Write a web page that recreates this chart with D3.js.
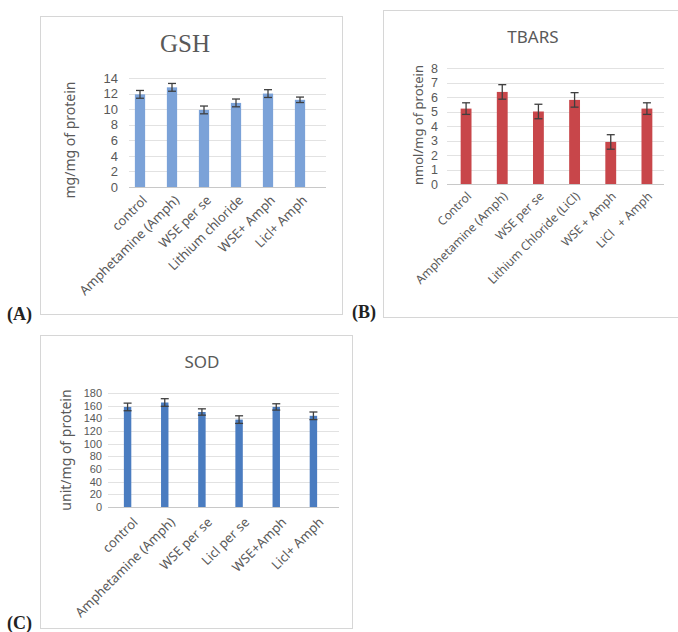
<!DOCTYPE html>
<html>
<head>
<meta charset="utf-8">
<script src="https://cdn.jsdelivr.net/npm/d3@7"></script>
<style>
  body { margin: 0; background: #fff; }
  svg { display: block; }
</style>
</head>
<body>
<div id="chart"></div>
<script>
// data
var gshCategories = ["control", "Amphetamine (Amph)", "WSE per se", "Lithium chloride", "WSE+ Amph", "Licl+ Amph"];
var gshMeans = [11.9, 12.8, 9.9, 10.8, 12.0, 11.2];
var gshErrors = [0.5, 0.5, 0.5, 0.5, 0.5, 0.35];
var gshTicks = [0, 2, 4, 6, 8, 10, 12, 14];

var tbarsCategories = ["Control", "Amphetamine (Amph)", "WSE per se", "Lithium Chloride (LiCl)", "WSE + Amph", "LiCl   + Amph"];
var tbarsMeans = [5.2, 6.35, 5.0, 5.8, 2.9, 5.2];
var tbarsErrors = [0.4, 0.5, 0.5, 0.5, 0.5, 0.4];
var tbarsTicks = [0, 1, 2, 3, 4, 5, 6, 7, 8];

var sodCategories = ["control", "Amphetamine (Amph)", "WSE per se", "Licl per se", "WSE+Amph", "Licl+ Amph"];
var sodMeans = [158, 165, 150, 138, 158, 144];
var sodErrors = [6, 6, 5, 6, 5, 6];
var sodTicks = [0, 20, 40, 60, 80, 100, 120, 140, 160, 180];

var svgWidth = 678;
var svgHeight = 632;

var svg = d3.select("#chart")
  .append("svg")
  .attr("width", svgWidth)
  .attr("height", svgHeight);

svg.append("rect")
  .attr("width", svgWidth)
  .attr("height", svgHeight)
  .attr("fill", "#fff");

var textColor = "#595959";
var sans = "Noto Sans, sans-serif";
var tickFont = "Liberation Sans, Arial, sans-serif";

function drawPanel(p) {
  var g = svg.append("g");

  // frame
  g.append("rect")
    .attr("x", p.box[0] + 0.5)
    .attr("y", p.box[1] + 0.5)
    .attr("width", p.box[2])
    .attr("height", p.box[3])
    .attr("fill", "none")
    .attr("stroke", "#d6d6d6")
    .attr("stroke-width", 1);

  // panel letter
  g.append("text")
    .attr("x", p.letterPos[0])
    .attr("y", p.letterPos[1])
    .attr("font-family", "Liberation Serif, serif")
    .attr("font-weight", "bold")
    .attr("font-size", "18px")
    .attr("fill", "#222")
    .text(p.letter);

  var x = d3.scaleBand()
    .domain(p.categories)
    .range(p.xRange)
    .paddingInner(p.pad)
    .paddingOuter(p.pad / 2);

  var y = d3.scaleLinear()
    .domain([0, p.ticks[p.ticks.length - 1]])
    .range(p.yRange);

  // gridlines
  g.selectAll(null)
    .data(p.ticks)
    .enter()
    .append("line")
    .attr("x1", p.grid[0])
    .attr("x2", p.grid[1])
    .attr("y1", d => Math.round(y(d)) + 0.5)
    .attr("y2", d => Math.round(y(d)) + 0.5)
    .attr("stroke", d => d === 0 ? "#c8c8c8" : "#e2e2e2")
    .attr("stroke-width", 1);

  // y axis (labels only)
  var yAxis = d3.axisLeft(y)
    .tickValues(p.ticks)
    .tickSize(0)
    .tickPadding(p.tickPad);

  var yG = g.append("g")
    .attr("transform", `translate(${p.grid[0]}, 0)`)
    .call(yAxis);
  yG.select(".domain").remove();
  yG.selectAll("text")
    .attr("font-family", tickFont)
    .attr("font-size", p.tickSize)
    .attr("fill", textColor);

  // bars
  g.selectAll(null)
    .data(p.means)
    .enter()
    .append("rect")
    .attr("x", (d, i) => x(p.categories[i]))
    .attr("y", d => y(d))
    .attr("width", x.bandwidth())
    .attr("height", d => y(0) - y(d))
    .attr("fill", p.color);

  // error bars
  var errG = g.selectAll(null)
    .data(p.means)
    .enter()
    .append("g")
    .attr("stroke", "#3f3f3f")
    .attr("stroke-width", 1.3);

  errG.append("line")
    .attr("x1", (d, i) => x(p.categories[i]) + x.bandwidth() / 2)
    .attr("x2", (d, i) => x(p.categories[i]) + x.bandwidth() / 2)
    .attr("y1", (d, i) => y(d - p.errors[i]))
    .attr("y2", (d, i) => y(d + p.errors[i]));

  errG.append("line")
    .attr("x1", (d, i) => x(p.categories[i]) + x.bandwidth() / 2 - 4)
    .attr("x2", (d, i) => x(p.categories[i]) + x.bandwidth() / 2 + 4)
    .attr("y1", (d, i) => y(d + p.errors[i]))
    .attr("y2", (d, i) => y(d + p.errors[i]));

  errG.append("line")
    .attr("x1", (d, i) => x(p.categories[i]) + x.bandwidth() / 2 - 4)
    .attr("x2", (d, i) => x(p.categories[i]) + x.bandwidth() / 2 + 4)
    .attr("y1", (d, i) => y(d - p.errors[i]))
    .attr("y2", (d, i) => y(d - p.errors[i]));

  // rotated category labels
  g.selectAll(null)
    .data(p.categories)
    .enter()
    .append("text")
    .attr("transform", d => `translate(${x(d) + x.bandwidth() / 2 + p.labelOff[0]}, ${y(0) + p.labelOff[1]}) rotate(-45)`)
    .attr("text-anchor", "end")
    .attr("font-family", sans)
    .attr("font-size", p.catSize)
    .attr("fill", textColor)
    .style("white-space", "pre")
    .text(d => d);

  // y title
  g.append("text")
    .attr("transform", `translate(${p.yTitlePos[0]}, ${p.yTitlePos[1]}) rotate(-90)`)
    .attr("text-anchor", "middle")
    .attr("font-family", sans)
    .attr("font-size", p.yTitleSize)
    .attr("fill", textColor)
    .text(p.yTitle);

  // chart title
  g.append("text")
    .attr("x", p.titlePos[0])
    .attr("y", p.titlePos[1])
    .attr("text-anchor", "middle")
    .attr("font-family", p.titleFont)
    .attr("font-size", p.titleSize)
    .attr("fill", textColor)
    .text(p.title);
}

drawPanel({
  box: [40, 16, 302, 298],
  letter: "(A)", letterPos: [7, 320],
  categories: gshCategories, means: gshMeans, errors: gshErrors, ticks: gshTicks,
  xRange: [124, 316], pad: 0.68, yRange: [187, 78], grid: [129, 326],
  color: "#7ba2d8", tickPad: 11, tickSize: "13px", catSize: "13px", labelOff: [8, 14],
  yTitle: "mg/mg of protein", yTitlePos: [75, 140], yTitleSize: "14px",
  title: "GSH", titlePos: [185, 52], titleFont: "Liberation Serif, serif", titleSize: "25px"
});

drawPanel({
  box: [383, 10, 300, 307],
  letter: "(B)", letterPos: [352, 318],
  categories: tbarsCategories, means: tbarsMeans, errors: tbarsErrors, ticks: tbarsTicks,
  xRange: [448, 665], pad: 0.7, yRange: [184, 68], grid: [447, 664],
  color: "#c8464a", tickPad: 9, tickSize: "12.5px", catSize: "12px", labelOff: [6, 13],
  yTitle: "nmol/mg of protein", yTitlePos: [423, 125], yTitleSize: "13px",
  title: "TBARS", titlePos: [533, 43], titleFont: sans, titleSize: "17px"
});

drawPanel({
  box: [40, 335, 312, 293],
  letter: "(C)", letterPos: [7, 629],
  categories: sodCategories, means: sodMeans, errors: sodErrors, ticks: sodTicks,
  xRange: [109, 332], pad: 0.8, yRange: [507, 393], grid: [108, 339],
  color: "#4a7cc0", tickPad: 6, tickSize: "11px", catSize: "13px", labelOff: [11, 16],
  yTitle: "unit/mg of protein", yTitlePos: [71, 450], yTitleSize: "14px",
  title: "SOD", titlePos: [202, 368], titleFont: sans, titleSize: "17px"
});
</script>
</body>
</html>
